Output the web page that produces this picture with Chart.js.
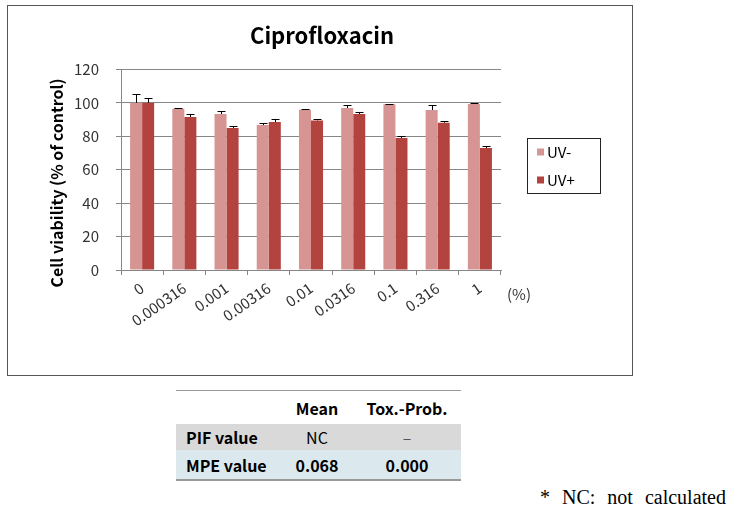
<!DOCTYPE html>
<html>
<head>
<meta charset="utf-8">
<script src="https://cdn.jsdelivr.net/npm/chart.js@4.4.1/dist/chart.umd.min.js"></script>
<style>
  html, body { margin: 0; padding: 0; background: #fff; width: 740px; height: 523px; overflow: hidden; }
  #box { position: absolute; left: 7px; top: 5px; width: 624px; height: 369px; border: 1px solid #555; }
  #c { position: absolute; left: 8px; top: 6px; }
  #tbl { position: absolute; left: 176px; top: 390px; width: 285px; border-collapse: collapse; table-layout: fixed;
         font-family: "Noto Sans CJK KR", "Noto Sans", sans-serif; font-size: 16px; color: #000; }
  #tbl td { padding: 0; white-space: nowrap; }
  #tbl tr.h td { height: 33px; border-top: 1px solid #999; font-weight: bold; }
  #tbl tr.p td { height: 26px; background: #d9d9d9; }
  #tbl tr.m td { height: 29px; background: #dbe9ee; border-bottom: 2px solid #999; font-weight: bold; }
  #tbl td.n { padding-left: 10px; font-weight: bold; width: 87px; }
  #tbl td.c1 { text-align: center; width: 88px; }
  #tbl td.c2 { text-align: center; padding-right: 8px; width: 92px; }
  #note { position: absolute; left: 540px; top: 486px; font-family: "Liberation Serif", "DejaVu Serif", serif;
          font-size: 20px; word-spacing: 7px; color: #000; white-space: nowrap; }
</style>
</head>
<body>
<div id="box"></div>
<canvas id="c" width="624" height="369"></canvas>
<table id="tbl">
  <tr class="h"><td class="n"></td><td class="c1">Mean</td><td class="c2">Tox.-Prob.</td></tr>
  <tr class="p"><td class="n">PIF value</td><td class="c1" style="font-weight:normal">NC</td><td class="c2" style="font-weight:normal;color:#555">–</td></tr>
  <tr class="m"><td class="n">MPE value</td><td class="c1">0.068</td><td class="c2">0.000</td></tr>
</table>
<div id="note">* NC: not calculated</div>
<script>
const categories = ['0', '0.000316', '0.001', '0.00316', '0.01', '0.0316', '0.1', '0.316', '1'];
const seriesNames = ['UV-', 'UV+'];
const uvMinus = [100, 96.5, 93.3, 86.7, 95.9, 96.9, 99.1, 95.7, 99.3];
const uvPlus = [100, 91.5, 85.0, 88.5, 89.5, 93.3, 79.0, 88.1, 73.0];
const uvMinusErr = [5.0, 0.5, 1.6, 1.0, 0.4, 1.8, 0.4, 3.0, 0.8];
const uvPlusErr = [2.7, 1.6, 1.0, 1.6, 0.6, 1.0, 1.4, 0.9, 1.4];
const yTickValues = [0, 20, 40, 60, 80, 100, 120];

const colors = ['#d69592', '#b3433f'];
const errors = [uvMinusErr, uvPlusErr];
const FONT = '"Noto Sans CJK KR", "Noto Sans", sans-serif';

const errorBarPlugin = {
  id: 'errorBars',
  afterDatasetsDraw(chart) {
    const ctx = chart.ctx;
    const y = chart.scales.y;
    ctx.save();
    ctx.strokeStyle = '#000';
    ctx.lineWidth = 1;
    chart.data.datasets.forEach((ds, i) => {
      const meta = chart.getDatasetMeta(i);
      meta.data.forEach((bar, j) => {
        const v = ds.data[j];
        const top = Math.round(y.getPixelForValue(v + errors[i][j])) + 0.5;
        const x = Math.round(bar.x) + 0.5;
        ctx.beginPath();
        ctx.moveTo(x, bar.y);
        ctx.lineTo(x, top);
        ctx.moveTo(x - 4, top);
        ctx.lineTo(x + 4, top);
        ctx.stroke();
      });
    });
    ctx.restore();
  }
};

const extrasPlugin = {
  id: 'extras',
  afterDraw(chart) {
    const ctx = chart.ctx;
    const a = chart.chartArea;
    ctx.save();
    // y axis title
    ctx.translate(49, 177);
    ctx.rotate(-Math.PI / 2);
    ctx.font = 'bold 16px ' + FONT;
    ctx.fillStyle = '#000';
    ctx.textAlign = 'center';
    ctx.textBaseline = 'middle';
    ctx.fillText('Cell viability (% of control)', 0, 0);
    ctx.restore();

    // unit label
    ctx.save();
    ctx.font = '15px ' + FONT;
    ctx.fillStyle = '#333';
    ctx.textAlign = 'center';
    ctx.textBaseline = 'middle';
    ctx.fillText('(%)', a.right + 18, a.bottom + 24);
    ctx.restore();

    // legend
    ctx.save();
    const lx = Math.round(a.right + 25.5), ly = 132.5, lw = 73, lh = 55;
    ctx.strokeStyle = '#222';
    ctx.lineWidth = 1;
    ctx.strokeRect(lx + 0.5, ly, lw, lh);
    ctx.font = '15px ' + FONT;
    ctx.textBaseline = 'middle';
    ctx.textAlign = 'left';
    chart.data.datasets.forEach((ds, i) => {
      const cy = 146 + i * 28;
      ctx.fillStyle = ds.backgroundColor;
      ctx.fillRect(lx + 10, cy - 3.5, 7, 7);
      ctx.fillStyle = '#000';
      ctx.fillText(ds.label, lx + 20, cy);
    });
    ctx.restore();
  }
};

new Chart(document.getElementById('c'), {
  type: 'bar',
  data: {
    labels: categories,
    datasets: [
      { label: seriesNames[0], data: uvMinus, backgroundColor: colors[0], barPercentage: 1, categoryPercentage: 0.57 },
      { label: seriesNames[1], data: uvPlus, backgroundColor: colors[1], barPercentage: 1, categoryPercentage: 0.57 }
    ]
  },
  options: {
    responsive: false,
    devicePixelRatio: 1,
    animation: false,
    layout: { padding: { left: 4, right: 0, top: 0, bottom: 0 } },
    plugins: {
      legend: { display: false },
      tooltip: { enabled: false },
      title: {
        display: true,
        text: 'Ciprofloxacin',
        color: '#000',
        font: { family: FONT, size: 22, weight: 'bold' },
        padding: { top: 16, bottom: 21 }
      }
    },
    scales: {
      x: {
        grid: { display: true, drawOnChartArea: false, drawTicks: true, tickLength: 5, color: '#868686', offset: true },
        border: { color: '#868686' },
        ticks: { minRotation: 35, maxRotation: 35, autoSkip: false, padding: 4, color: '#333', font: { family: FONT, size: 15 } },
        afterFit(s) { s.height = 105; }
      },
      y: {
        min: 0,
        max: 120,
        afterBuildTicks(s) { s.ticks = yTickValues.map(v => ({ value: v })); },
        grid: { color: '#868686', tickLength: 5 },
        border: { color: '#868686' },
        ticks: { padding: 17, color: '#333', font: { family: FONT, size: 15 } },
        afterFit(s) { s.width = 109; }
      },
      yRight: {
        position: 'right',
        display: true,
        grid: { display: false, drawTicks: false },
        border: { display: false },
        ticks: { display: false },
        afterFit(s) { s.width = 131; }
      }
    }
  },
  plugins: [errorBarPlugin, extrasPlugin]
});
</script>
</body>
</html>
